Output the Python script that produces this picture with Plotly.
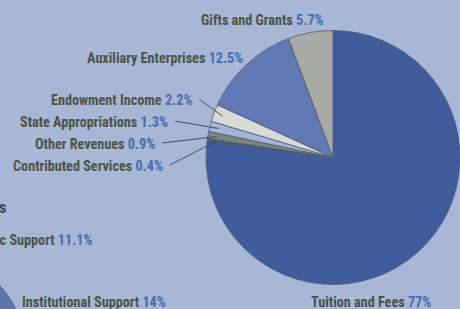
import math
import plotly.graph_objects as go

# ---- data ----
labels = ["Tuition and Fees", "Contributed Services", "Other Revenues",
          "State Appropriations", "Endowment Income", "Auxiliary Enterprises",
          "Gifts and Grants"]
values = [77, 0.4, 0.9, 1.3, 2.2, 12.5, 5.7]
pct_text = ["77%", "0.4%", "0.9%", "1.3%", "2.2%", "12.5%", "5.7%"]
colors = ["#3f5c9c", "#46597f", "#7b8a78", "#a3b5d8", "#d8dbd4", "#6079b4", "#a8aba4"]

other_labels = ["Academic Support", "Institutional Support"]
other_pcts = ["11.1%", "14%"]

W, H = 460, 309
BG = "#a8b7d6"
LBL = "#4c5344"
PCT = "#4a6cb0"
FONT = "Liberation Sans Narrow, Roboto Condensed, Liberation Sans, Arial"
FS = 14.2

# pie geometry (pixels)
px0, px1, py0, py1 = 206, 460, 28, 287
R = min(px1 - px0, py1 - py0) / 2
CX, CY = (px0 + px1) / 2, (py0 + py1) / 2

def fx(x):
    return x / W

def fy(y):
    return 1 - y / H

fig = go.Figure(go.Pie(
    labels=labels, values=values, sort=False, direction="clockwise",
    rotation=0, textinfo="none",
    marker=dict(colors=colors, line=dict(color="#4d5a70", width=0.8)),
    domain=dict(x=[fx(px0), fx(px1)], y=[fy(py1), fy(py0)]),
    showlegend=False, hoverinfo="label+percent",
))

def lab(i):
    return (f"<b><span style='color:{LBL}'>{labels[i]}</span> "
            f"<span style='color:{PCT}'>{pct_text[i]}</span></b>")

# label placement: (index, x, y, anchor, leader?)
placements = [
    (6, 262, 20, "center", False),
    (5, 245, 58, "right", False),
    (4, 194, 100, "right", True),
    (3, 170, 122, "right", True),
    (2, 157, 144, "right", True),
    (1, 165, 166, "right", True),
    (0, 371, 302, "center", False),
]

total = sum(values)
cum = [sum(values[:i]) for i in range(len(values))]
annotations = []
shapes = []
for i, x, y, anc, leader in placements:
    annotations.append(dict(
        x=fx(x), y=fy(y), xref="paper", yref="paper", text=lab(i),
        showarrow=False, xanchor=anc, yanchor="middle",
        font=dict(family=FONT, size=FS)))
    if leader:
        mid = (cum[i] + values[i] / 2) / total * 2 * math.pi
        ex = CX + 0.93 * R * math.sin(mid)
        ey = CY - 0.93 * R * math.cos(mid)
        shapes.append(dict(type="line", xref="paper", yref="paper",
                           x0=fx(x + 5), y0=fy(y - 1), x1=fx(ex), y1=fy(ey),
                           line=dict(color="#4a5050", width=1)))

# clipped neighbouring chart fragments (cut by the picture edge, as in the reference)
annotations.append(dict(
    x=fx(95), y=fy(240), xref="paper", yref="paper",
    text=(f"<b><span style='color:{LBL}'>{other_labels[0]}</span> "
          f"<span style='color:{PCT}'>{other_pcts[0]}</span></b>"),
    showarrow=False, xanchor="right", yanchor="middle",
    font=dict(family=FONT, size=FS)))
annotations.append(dict(
    x=fx(94), y=fy(302), xref="paper", yref="paper",
    text=(f"<b><span style='color:{LBL}'>{other_labels[1]}</span> "
          f"<span style='color:{PCT}'>{other_pcts[1]}</span></b>"),
    showarrow=False, xanchor="center", yanchor="middle",
    font=dict(family=FONT, size=FS)))
annotations.append(dict(
    x=fx(9), y=fy(207), xref="paper", yref="paper",
    text="<b>Expenses</b>", showarrow=False, xanchor="right", yanchor="middle",
    font=dict(family=FONT, size=17, color="#3e4a5a")))

shapes.append(dict(type="circle", xref="paper", yref="paper",
                   x0=fx(-165), x1=fx(25), y0=fy(445), y1=fy(255),
                   fillcolor="#5b75ad", line=dict(color="#4d5a70", width=0.8),
                   layer="below"))

fig.update_layout(
    width=W, height=H, margin=dict(l=0, r=0, t=0, b=0),
    paper_bgcolor=BG, plot_bgcolor=BG,
    annotations=annotations, shapes=shapes,
)

fig.write_html(
    "out.html",
    config={"displayModeBar": False},
    post_script="document.body.style.margin='0';document.body.style.overflow='hidden';",
)
